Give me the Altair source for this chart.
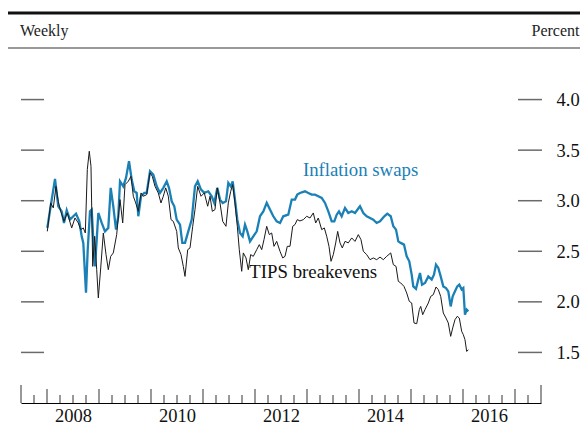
import altair as alt
import pandas as pd

# Inflation swaps (5-yr, 5-yr forward), decimal year -> percent
swap_years = [2008.006, 2008.071, 2008.154, 2008.217, 2008.283, 2008.327, 2008.379, 2008.442, 2008.506, 2008.558,
              2008.621, 2008.667, 2008.698, 2008.750, 2008.783, 2008.827, 2008.860, 2008.890, 2008.923, 2008.956,
              2008.987, 2009.052, 2009.115, 2009.179, 2009.225, 2009.275, 2009.327, 2009.371, 2009.404, 2009.467,
              2009.519, 2009.577, 2009.629, 2009.679, 2009.725, 2009.756, 2009.808, 2009.871, 2009.917, 2009.981,
              2010.044, 2010.110, 2010.173, 2010.237, 2010.302, 2010.346, 2010.398, 2010.448, 2010.494, 2010.558,
              2010.602, 2010.654, 2010.717, 2010.783, 2010.846, 2010.898, 2010.962, 2011.025, 2011.102, 2011.167,
              2011.217, 2011.275, 2011.327, 2011.379, 2011.442, 2011.487, 2011.533, 2011.571, 2011.615, 2011.660,
              2011.712, 2011.763, 2011.808, 2011.852, 2011.904, 2011.967, 2012.033, 2012.096, 2012.160, 2012.225,
              2012.288, 2012.352, 2012.417, 2012.481, 2012.544, 2012.640, 2012.706, 2012.769, 2012.813, 2012.865,
              2012.962, 2013.025, 2013.090, 2013.154, 2013.217, 2013.283, 2013.346, 2013.410, 2013.475, 2013.525,
              2013.571, 2013.615, 2013.667, 2013.731, 2013.794, 2013.860, 2013.923, 2014.019, 2014.083, 2014.148,
              2014.212, 2014.275, 2014.340, 2014.404, 2014.487, 2014.544, 2014.610, 2014.660, 2014.712, 2014.756,
              2014.802, 2014.865, 2014.917, 2014.967, 2015.013, 2015.044, 2015.096, 2015.140, 2015.173, 2015.212,
              2015.269, 2015.333, 2015.398, 2015.442, 2015.481, 2015.525, 2015.571, 2015.621, 2015.673, 2015.717,
              2015.763, 2015.802, 2015.846, 2015.890, 2015.929, 2015.975, 2016.006, 2016.038, 2016.071, 2016.102]
swap_values = [2.731, 2.945, 3.216, 2.945, 2.895, 2.780, 2.905, 2.813, 2.846, 2.872,
               2.796, 2.648, 2.583, 2.091, 2.516, 2.895, 2.912, 2.615, 2.351, 2.615,
               2.879, 2.780, 2.697, 2.731, 3.127, 2.945, 2.714, 2.846, 3.192, 3.142,
               3.226, 3.390, 3.209, 3.093, 3.077, 2.846, 3.044, 3.077, 3.077, 3.291,
               3.258, 3.142, 3.077, 3.127, 3.192, 3.127, 2.994, 2.945, 2.813, 2.764,
               2.583, 2.583, 2.697, 2.813, 3.142, 3.192, 3.110, 3.077, 3.093, 3.044,
               2.978, 3.127, 3.011, 2.978, 2.994, 3.176, 3.142, 3.192, 3.011, 2.813,
               2.681, 2.648, 2.764, 2.697, 2.598, 2.648, 2.697, 2.846, 2.895, 2.978,
               2.912, 2.846, 2.796, 2.780, 2.846, 2.862, 3.011, 3.011, 3.060, 3.077,
               3.093, 3.077, 3.060, 3.060, 3.044, 3.028, 2.978, 2.895, 2.796, 2.796,
               2.862, 2.895, 2.846, 2.929, 2.879, 2.895, 2.879, 2.945, 2.879, 2.846,
               2.829, 2.813, 2.780, 2.796, 2.846, 2.872, 2.846, 2.747, 2.714, 2.598,
               2.583, 2.566, 2.450, 2.401, 2.269, 2.153, 2.128, 2.220, 2.286, 2.170,
               2.187, 2.252, 2.220, 2.269, 2.368, 2.335, 2.252, 2.153, 2.137, 2.104,
               1.955, 2.054, 2.104, 2.153, 2.170, 2.121, 2.137, 1.873, 1.923, 1.906]

# TIPS breakevens
tips_years = [2008.006, 2008.071, 2008.121, 2008.173, 2008.217, 2008.263, 2008.327, 2008.390, 2008.475, 2008.538,
              2008.602, 2008.648, 2008.698, 2008.737, 2008.775, 2008.813, 2008.846, 2008.879, 2008.917, 2008.956,
              2008.987, 2009.033, 2009.083, 2009.135, 2009.179, 2009.225, 2009.275, 2009.340, 2009.404, 2009.456,
              2009.500, 2009.563, 2009.615, 2009.660, 2009.706, 2009.756, 2009.808, 2009.852, 2009.917, 2009.981,
              2010.025, 2010.077, 2010.140, 2010.192, 2010.237, 2010.283, 2010.333, 2010.385, 2010.429, 2010.494,
              2010.525, 2010.577, 2010.621, 2010.654, 2010.706, 2010.750, 2010.802, 2010.846, 2010.898, 2010.962,
              2011.025, 2011.090, 2011.135, 2011.179, 2011.231, 2011.275, 2011.327, 2011.379, 2011.442, 2011.487,
              2011.533, 2011.571, 2011.615, 2011.660, 2011.698, 2011.744, 2011.775, 2011.827, 2011.871, 2011.917,
              2011.967, 2012.033, 2012.083, 2012.129, 2012.173, 2012.225, 2012.275, 2012.321, 2012.365, 2012.417,
              2012.481, 2012.533, 2012.577, 2012.621, 2012.673, 2012.725, 2012.769, 2012.813, 2012.865, 2012.929,
              2012.994, 2013.058, 2013.121, 2013.167, 2013.217, 2013.283, 2013.333, 2013.379, 2013.423, 2013.462,
              2013.506, 2013.552, 2013.590, 2013.635, 2013.679, 2013.731, 2013.794, 2013.860, 2013.923, 2013.987,
              2014.038, 2014.083, 2014.148, 2014.212, 2014.275, 2014.340, 2014.404, 2014.467, 2014.533, 2014.610,
              2014.660, 2014.712, 2014.756, 2014.802, 2014.865, 2014.917, 2014.967, 2015.013, 2015.058, 2015.110,
              2015.160, 2015.187, 2015.225, 2015.269, 2015.333, 2015.379, 2015.429, 2015.481, 2015.525, 2015.571,
              2015.621, 2015.673, 2015.717, 2015.763, 2015.802, 2015.846, 2015.890, 2015.929, 2015.975, 2016.006,
              2016.038, 2016.071, 2016.102]
tips_values = [2.697, 2.978, 2.929, 3.142, 2.994, 2.895, 2.796, 2.879, 2.731, 2.830,
               2.780, 2.714, 2.731, 2.681, 3.308, 3.489, 3.340, 2.351, 2.648, 2.318,
               2.039, 2.335, 2.681, 2.467, 2.318, 2.450, 2.484, 2.665, 3.011, 2.780,
               3.159, 3.192, 3.241, 3.044, 2.978, 2.895, 3.077, 3.044, 3.060, 3.275,
               3.241, 3.142, 3.077, 2.978, 3.044, 3.127, 3.044, 2.813, 2.796, 2.697,
               2.533, 2.467, 2.351, 2.252, 2.516, 2.533, 2.747, 2.912, 3.142, 3.044,
               3.077, 2.945, 3.044, 2.895, 2.912, 3.127, 2.978, 2.796, 2.747, 2.978,
               3.093, 3.159, 2.978, 2.747, 2.516, 2.302, 2.484, 2.434, 2.318, 2.467,
               2.450, 2.516, 2.566, 2.516, 2.615, 2.747, 2.665, 2.681, 2.549, 2.598,
               2.500, 2.434, 2.450, 2.549, 2.549, 2.747, 2.764, 2.813, 2.800, 2.813,
               2.846, 2.829, 2.879, 2.780, 2.829, 2.714, 2.731, 2.648, 2.549, 2.401,
               2.467, 2.583, 2.697, 2.583, 2.533, 2.598, 2.583, 2.632, 2.598, 2.665,
               2.615, 2.500, 2.467, 2.417, 2.434, 2.417, 2.443, 2.417, 2.450, 2.484,
               2.368, 2.351, 2.203, 2.187, 2.153, 2.088, 2.005, 1.989, 1.791, 1.784,
               1.923, 1.955, 1.873, 1.923, 1.989, 2.054, 2.071, 2.147, 2.121, 2.054,
               1.890, 1.840, 1.791, 1.659, 1.742, 1.824, 1.857, 1.840, 1.708, 1.676,
               1.626, 1.510, 1.527]

y_levels = [1.5, 2.0, 2.5, 3.0, 3.5, 4.0]
year_label_pos = [2008.5, 2010.5, 2012.5, 2014.5, 2016.5]
year_ticks = [2008, 2009, 2010, 2011, 2012, 2013, 2014, 2015, 2016, 2017]
quarter_ticks = [y + q for y in range(2007, 2018) for q in (0.25, 0.5, 0.75)
                 if 2007.5 < y + q < 2017.5]
edge_ticks = [2007.5, 2017.5]

labels = pd.DataFrame({"year": [2014.03, 2013.12], "value": [3.30, 2.30],
                       "text": ["Inflation swaps", "TIPS breakevens"],
                       "series": ["swaps", "tips"]})

BLUE = "#1a80b6"
FONT = "Liberation Serif"
W, H = 520, 354

swaps = pd.DataFrame({"year": swap_years, "value": swap_values})
tips = pd.DataFrame({"year": tips_years, "value": tips_values})

xscale = alt.Scale(domain=[2007.5, 2017.5], nice=False, zero=False)
yscale = alt.Scale(domain=[1.0, 4.5], nice=False, zero=False)

x_axis = alt.Axis(values=year_label_pos, labelExpr="floor(datum.value)", tickSize=0,
                  domain=True, domainColor="#000", domainWidth=1.2, grid=False, title=None,
                  labelFont=FONT, labelFontSize=18.5, labelColor="#111", labelPadding=3)
y_axis = alt.Axis(orient="right", values=y_levels, format=".1f", tickSize=0, domain=False,
                  grid=False, title=None, labelFont=FONT, labelFontSize=18.5, labelColor="#111",
                  labelPadding=15)

blue_line = alt.Chart(swaps).mark_line(color=BLUE, strokeWidth=2.3).encode(
    x=alt.X("year:Q", scale=xscale, axis=x_axis),
    y=alt.Y("value:Q", scale=yscale, axis=y_axis),
)
black_line = alt.Chart(tips).mark_line(color="#1a1a1a", strokeWidth=1).encode(
    x=alt.X("year:Q", scale=xscale),
    y=alt.Y("value:Q", scale=yscale),
)

def xticks(vals, top):
    return alt.Chart(pd.DataFrame({"t": vals})).mark_rule(color="#333", strokeWidth=1).encode(
        x=alt.X("t:Q", scale=xscale), y=alt.value(H), y2=alt.value(top))

lvl = pd.DataFrame({"v": y_levels})
left_ticks = alt.Chart(lvl).mark_rule(color="#6a6a6a", strokeWidth=1.5).encode(
    y=alt.Y("v:Q", scale=yscale), x=alt.value(0), x2=alt.value(23))
right_ticks = alt.Chart(lvl).mark_rule(color="#6a6a6a", strokeWidth=1.5).encode(
    y=alt.Y("v:Q", scale=yscale), x=alt.value(497), x2=alt.value(521))

ann = alt.Chart(labels).mark_text(font=FONT, fontSize=18.8, align="center", baseline="middle").encode(
    x=alt.X("year:Q", scale=xscale), y=alt.Y("value:Q", scale=yscale), text="text:N",
    color=alt.Color("series:N", scale=alt.Scale(domain=["swaps", "tips"], range=[BLUE, "#111"]), legend=None))

one = alt.Data(values=[{"a": 1}])
top_rule = alt.Chart(one).mark_rule(color="#111", strokeWidth=3).encode(
    x=alt.value(-13), x2=alt.value(559), y=alt.value(-36))
thin_rule = alt.Chart(one).mark_rule(color="#777", strokeWidth=1.5).encode(
    x=alt.value(-13), x2=alt.value(559), y=alt.value(-1))
weekly = alt.Chart(one).mark_text(font=FONT, fontSize=16, align="left", baseline="middle", color="#222").encode(
    x=alt.value(-1), y=alt.value(-18), text=alt.value("Weekly"))
percent = alt.Chart(one).mark_text(font=FONT, fontSize=16, align="right", baseline="middle", color="#222").encode(
    x=alt.value(558.5), y=alt.value(-18), text=alt.value("Percent"))

chart = alt.layer(
    blue_line, black_line,
    xticks(quarter_ticks, H - 8), xticks(year_ticks, H - 14), xticks(edge_ticks, H - 18),
    left_ticks, right_ticks, ann, top_rule, thin_rule, weekly, percent,
).properties(
    width=W, height=H,
    padding={"left": 13, "top": 41, "right": 39, "bottom": 24},
    autosize=alt.AutoSizeParams(type="none"),
).configure_view(stroke=None)

chart.save("out.html", embed_options={"renderer": "svg", "actions": False})
